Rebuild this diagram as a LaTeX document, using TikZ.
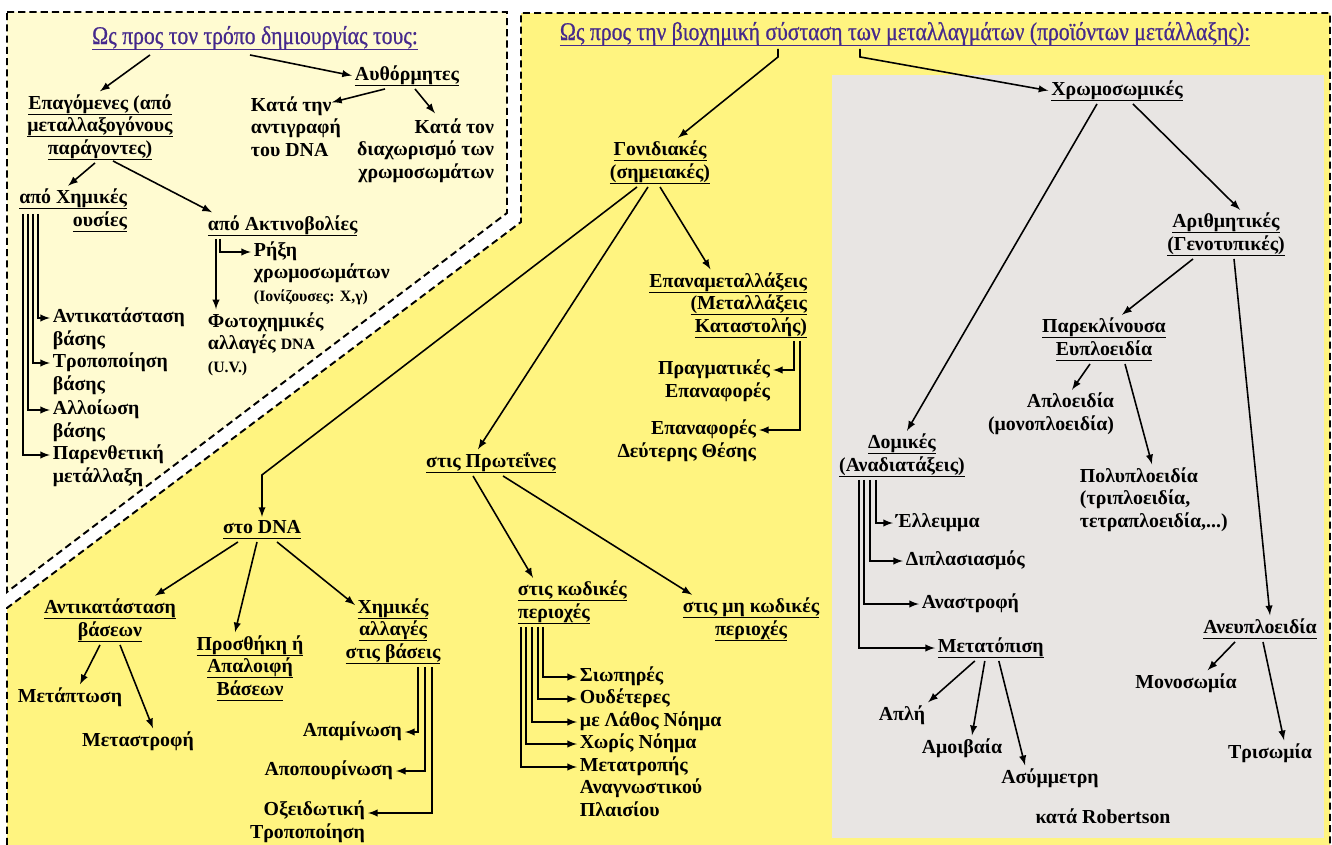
\documentclass[tikz,border=0pt]{standalone}
\usepackage{fontspec}
\usepackage{graphicx}
\setmainfont{Liberation Serif}
\newfontfamily\headfont[FakeBold=0.8]{Liberation Serif}
\usetikzlibrary{calc,arrows}
\definecolor{myyellow}{rgb}{1,0.955,0.5}
\definecolor{mypale}{rgb}{1,0.985,0.82}
\definecolor{mygray}{rgb}{0.91,0.9,0.89}
\definecolor{mypurple}{rgb}{0.27,0.16,0.55}
\newsavebox\ulbox
\newcommand{\ulx}[1]{\sbox\ulbox{#1}\rlap{\rule[-3.4pt]{\wd\ulbox}{0.7pt}}\usebox\ulbox}
\newcommand{\smalltxt}{\fontsize{9}{11}\selectfont}
\tikzset{
  area/.style={draw, line width=1.1pt, dash pattern=on 4pt off 2.4pt},
  lbl/.style={inner sep=1.5pt, font=\fontsize{11.3}{12.8}\selectfont\bfseries},
  head/.style={inner sep=1.5pt, text=mypurple, font=\fontsize{14.5}{16}\headfont},
  arrow/.style={draw, -latex, line width=0.9pt}
}

\begin{document}
\begin{tikzpicture}[x=0.02cm, y=-0.02cm]
\useasboundingbox (0,0) rectangle (1332,845);

% areas
\fill[mypale] (7,12) -- (507,12) -- (507,213) -- (7,592) -- cycle;
\draw[area] (7,12) -- (507,12) -- (507,213) -- (7,592) -- cycle;
\fill[myyellow] (521,13) -- (1330,13) -- (1330,845) -- (7,845) -- (7,608) -- (521,222) -- cycle;
\draw[area] (7,845) -- (7,608) -- (521,222) -- (521,13) -- (1330,13) -- (1330,845);
\fill[mygray] (832,75) rectangle (1324,838);

% left area: boxes (multi-line nodes sit on their last baseline)
\node[head, anchor=base] (t1) at (255,44) {\scalebox{0.85}[1]{\ulx{Ως προς τον τρόπο δημιουργίας τους:}}};
\node[lbl, anchor=base] (aut) at (407,80) {\ulx{Αυθόρμητες}};
\node[lbl, anchor=base, align=center] (epag) at (100,154)
{\ulx{Επαγόμενες (από}\\\ulx{μεταλλαξογόνους}\\\ulx{παράγοντες)}};
\node[lbl, anchor=base west, align=left] (rep) at (248,156) {Κατά την\\αντιγραφή\\του DNA};
\node[lbl, anchor=base east, align=right] (sep) at (497,178) {Κατά τον\\διαχωρισμό των\\χρωμοσωμάτων};
\node[lbl, anchor=base east, align=right] (chem) at (130,226) {\ulx{από Χημικές}\\\ulx{ουσίες}};
\node[lbl, anchor=base west] (rad) at (205,230) {\ulx{από Ακτινοβολίες}};
\node[lbl, anchor=base west, align=left] (brk) at (251,301)
{Ρήξη\\χρωμοσωμάτων\\{\smalltxt (Ιονίζουσες: X,γ)}};
\node[lbl, anchor=base west, align=left] (photo) at (205,372)
{Φωτοχημικές\\αλλαγές {\smalltxt DNA}\\{\smalltxt (U.V.)}};
\node[lbl, anchor=base west, align=left] (subs) at (50,345) {Αντικατάσταση\\βάσης};
\node[lbl, anchor=base west, align=left] (modi) at (50,390) {Τροποποίηση\\βάσης};
\node[lbl, anchor=base west, align=left] (alt) at (50,437) {Αλλοίωση\\βάσης};
\node[lbl, anchor=base west, align=left] (frm) at (50,482) {Παρενθετική\\μετάλλαξη};

% left area: arrows
\draw[arrow] ($(t1.south)+(-105,2)$) -- (epag.north);
\draw[arrow] ($(t1.south)+(-5,2)$) -- (aut.west);
\draw[arrow] ($(aut.south)+(-22,0)$) -- ($(rep.north west)+(84,9)$);
\draw[arrow] ($(aut.south)+(8,0)$) -- ($(sep.north east)+(-62,-2)$);
\draw[arrow] ($(epag.south)+(-5,0)$) -- ($(chem.north)+(-5,0)$);
\draw[arrow] ($(epag.south)+(13,-2)$) -- ($(rad.north west)+(7,0)$);
\draw[arrow] ($(rad.south west)+(15,0)$) |- ($(brk.base west)+(0,-49)$);
\draw[arrow] ($(rad.south west)+(11,0)$) coordinate (p) -- (p |- photo.north);
\draw[arrow] ($(chem.south west)+(22,-21)$) |- ($(subs.base west)+(0,-27)$);
\draw[arrow] ($(chem.south west)+(17,-21)$) |- ($(modi.base west)+(0,-27)$);
\draw[arrow] ($(chem.south west)+(12,-21)$) |- ($(alt.base west)+(0,-27)$);
\draw[arrow] ($(chem.south west)+(7,-21)$) |- ($(frm.base west)+(0,-27)$);

% main area: boxes
\node[head, anchor=base] (t2) at (905,40)
{\scalebox{0.85}[1]{\ulx{Ως προς την βιοχημική σύσταση των μεταλλαγμάτων (προϊόντων μετάλλαξης):}}};
\node[lbl, anchor=base, align=center] (gon) at (660,178) {\ulx{Γονιδιακές}\\\ulx{(σημειακές)}};
\node[lbl, anchor=base east, align=right] (rev) at (810,332)
{\ulx{Επαναμεταλλάξεις}\\\ulx{(Μεταλλάξεις}\\\ulx{Καταστολής)}};
\node[lbl, anchor=base east, align=right] (real) at (773,397) {Πραγματικές\\Επαναφορές};
\node[lbl, anchor=base east, align=right] (sec) at (759,457) {Επαναφορές\\Δεύτερης Θέσης};
\node[lbl, anchor=base] (prot) at (491,467) {\ulx{στις Πρωτεΐνες}};
\node[lbl, anchor=base] (dna) at (262,533) {\ulx{στο DNA}};
\node[lbl, anchor=base, align=center] (bsub) at (110,636) {\ulx{Αντικατάσταση}\\\ulx{βάσεων}};
\node[lbl, anchor=base, align=center] (ins) at (250,695) {\ulx{Προσθήκη ή}\\\ulx{Απαλοιφή}\\\ulx{Βάσεων}};
\node[lbl, anchor=base, align=center] (chm) at (393,658) {\ulx{Χημικές}\\\ulx{αλλαγές}\\\ulx{στις βάσεις}};
\node[lbl, anchor=base] (metap) at (70,702) {Μετάπτωση};
\node[lbl, anchor=base] (metas) at (138,746) {Μεταστροφή};
\node[lbl, anchor=base east] (deam) at (405,736) {Απαμίνωση};
\node[lbl, anchor=base east] (depur) at (396,775) {Αποπουρίνωση};
\node[lbl, anchor=base east, align=right] (oxid) at (368,838) {Οξειδωτική\\Τροποποίηση};
\node[lbl, anchor=base west, align=left] (cod) at (515,618) {\ulx{στις κωδικές}\\\ulx{περιοχές}};
\node[lbl, anchor=base, align=center] (ncod) at (751,635) {\ulx{στις μη κωδικές}\\\ulx{περιοχές}};
\node[lbl, anchor=base west] (sil) at (577,681) {Σιωπηρές};
\node[lbl, anchor=base west] (neu) at (577,703) {Ουδέτερες};
\node[lbl, anchor=base west] (mis) at (577,726) {με Λάθος Νόημα};
\node[lbl, anchor=base west] (non) at (577,748) {Χωρίς Νόημα};
\node[lbl, anchor=base west, align=left] (frs) at (577,816) {Μετατροπής\\Αναγνωστικού\\Πλαισίου};

% main area: arrows
\draw[arrow] ($(t2.south)+(-127,0)$) -- ++(0,8) -- ($(gon.north)+(18,0)$);
\draw[arrow] ($(gon.south)+(-23,0)$) -- ($(dna.north)+(0,-42)$) -- (dna.north);
\draw[arrow] ($(gon.south)+(-12,0)$) -- ($(prot.north)+(-13,0)$);
\draw[arrow] (gon.south) -- ($(rev.north west)+(64,0)$);
\draw[arrow] ($(rev.south east)+(-16,0)$) |- ($(real.base east)+(0,-27)$);
\draw[arrow] ($(rev.south east)+(-10,0)$) |- ($(sec.base east)+(0,-27)$);
\draw[arrow] ($(dna.south)+(-24,0)$) -- ($(bsub.north)+(45,0)$);
\draw[arrow] ($(dna.south)+(-5,0)$) -- ($(ins.north)+(-15,0)$);
\draw[arrow] ($(dna.south)+(15,0)$) -- ($(chm.base)+(-38,-53)$);
\draw[arrow] ($(bsub.south)+(-10,0)$) -- ($(metap.north)+(10,0)$);
\draw[arrow] ($(bsub.south)+(10,0)$) -- ($(metas.north)+(15,0)$);
\draw[arrow] ($(chm.south)+(25,0)$) |- ($(deam.base east)+(0,-4)$);
\draw[arrow] ($(chm.south)+(32,0)$) |- ($(depur.base east)+(0,-4)$);
\draw[arrow] ($(chm.south)+(39,0)$) |- ($(oxid.base east)+(0,-25)$);
\draw[arrow] ($(prot.south)+(-18,0)$) -- ($(cod.north west)+(18,0)$);
\draw[arrow] ($(prot.south)+(12,0)$) -- ($(ncod.north)+(-59,0)$);
\draw[arrow] ($(cod.south west)+(28,0)$) |- ($(sil.base west)+(0,-4)$);
\draw[arrow] ($(cod.south west)+(23,0)$) |- ($(neu.base west)+(0,-4)$);
\draw[arrow] ($(cod.south west)+(17,0)$) |- ($(mis.base west)+(0,-4)$);
\draw[arrow] ($(cod.south west)+(11,0)$) |- ($(non.base west)+(0,-4)$);
\draw[arrow] ($(cod.south west)+(6,0)$) |- ($(frs.base west)+(0,-49)$);

% gray area: boxes
\node[lbl, anchor=base] (chr) at (1117,95) {\ulx{Χρωμοσωμικές}};
\node[lbl, anchor=base, align=center] (ari) at (1226,250) {\ulx{Αριθμητικές}\\\ulx{(Γενοτυπικές)}};
\node[lbl, anchor=base, align=center] (par) at (1104,355) {\ulx{Παρεκλίνουσα}\\\ulx{Ευπλοειδία}};
\node[lbl, anchor=base east, align=right] (hap) at (1117,430) {Απλοειδία\\(μονοπλοειδία)};
\node[lbl, anchor=base west, align=left] (pol) at (1077,527) {Πολυπλοειδία\\(τριπλοειδία,\\τετραπλοειδία,...)};
\node[lbl, anchor=base, align=center] (dom) at (902,471) {\ulx{Δομικές}\\\ulx{(Αναδιατάξεις)}};
\node[lbl, anchor=base west] (ell) at (893,527) {Έλλειμμα};
\node[lbl, anchor=base west] (dup) at (903,565) {Διπλασιασμός};
\node[lbl, anchor=base west] (inv) at (919,608) {Αναστροφή};
\node[lbl, anchor=base west] (tra) at (935,652) {\ulx{Μετατόπιση}};
\node[lbl, anchor=base] (simp) at (902,720) {Απλή};
\node[lbl, anchor=base] (recip) at (962,753) {Αμοιβαία};
\node[lbl, anchor=base] (asym) at (1050,783) {Ασύμμετρη};
\node[lbl, anchor=base] (rob) at (1103,823) {κατά Robertson};
\node[lbl, anchor=base] (aneu) at (1260,633) {\ulx{Ανευπλοειδία}};
\node[lbl, anchor=base] (mono) at (1186,688) {Μονοσωμία};
\node[lbl, anchor=base] (tris) at (1270,758) {Τρισωμία};

% gray area: arrows
\draw[arrow] ($(t2.south)+(-45,0)$) -- ++(0,8) -- (chr.west);
\draw[arrow] ($(chr.south)+(-20,0)$) -- ($(dom.north)+(5,0)$);
\draw[arrow] ($(chr.south)+(16,0)$) -- ($(ari.north)+(14,0)$);
\draw[arrow] ($(ari.south)+(-33,0)$) -- ($(par.north)+(18,0)$);
\draw[arrow] ($(ari.south)+(8,0)$) -- ($(aneu.north)+(10,0)$);
\draw[arrow] ($(par.south)+(-14,0)$) -- ($(hap.north east)+(-45,0)$);
\draw[arrow] ($(par.south)+(21,0)$) -- ($(pol.north west)+(75,0)$);
\draw[arrow] ($(dom.south west)+(40,0)$) |- ($(ell.base west)+(0,-4)$);
\draw[arrow] ($(dom.south west)+(34,0)$) |- ($(dup.base west)+(0,-4)$);
\draw[arrow] ($(dom.south west)+(28,0)$) |- ($(inv.base west)+(0,-4)$);
\draw[arrow] ($(dom.south west)+(23,0)$) |- ($(tra.base west)+(0,-4)$);
\draw[arrow] ($(tra.south)+(-16,0)$) -- (simp.north east);
\draw[arrow] ($(tra.south)+(-6,0)$) -- ($(recip.north)+(10,0)$);
\draw[arrow] ($(tra.south)+(8,0)$) -- ($(asym.north)+(-25,0)$);
\draw[arrow] ($(aneu.south)+(-25,0)$) -- ($(mono.north east)+(-32,0)$);
\draw[arrow] ($(aneu.south)+(3,0)$) -- ($(tris.north)+(14,0)$);

\end{tikzpicture}
\end{document}
